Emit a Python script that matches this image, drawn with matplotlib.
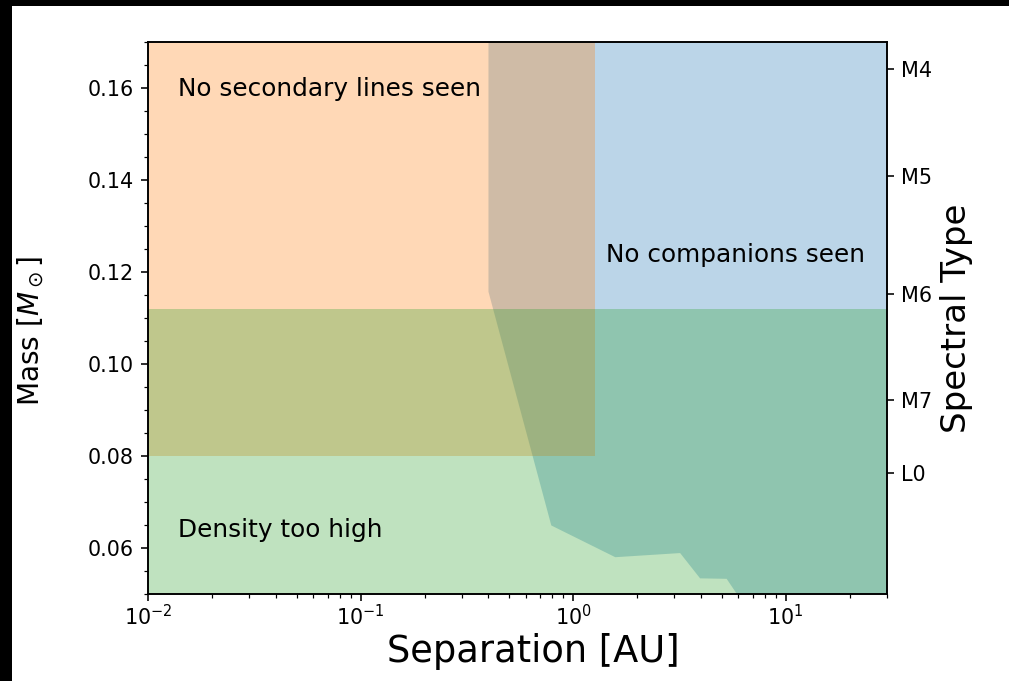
import matplotlib
matplotlib.use("Agg")
import matplotlib.pyplot as plt
from matplotlib.patches import Rectangle
from matplotlib.ticker import MultipleLocator

# Data
x_range = [0.01, 30]
y_range = [0.05, 0.17]
# "No secondary lines seen" region (orange)
sb2_sep = [0.01, 1.27]
sb2_mass = [0.08, 0.17]
# "Density too high" region (green)
dens_sep = [0.01, 30]
dens_mass = [0.05, 0.112]
# "No companions seen" region boundary (blue)
comp_sep = [0.4, 0.4, 0.79, 1.58, 3.19, 3.96, 5.28, 5.9, 30, 30]
comp_mass = [0.17, 0.1157, 0.0649, 0.058, 0.0589, 0.0534, 0.0533, 0.05, 0.05, 0.17]
# Spectral type axis
spt_mass = [0.1641, 0.1409, 0.1152, 0.0922, 0.0762]
spt_labels = ["M4", "M5", "M6", "M7", "L0"]

DPI = 144
fig = plt.figure(figsize=(1009 / DPI, 681 / DPI), dpi=DPI)
fig.patch.set_facecolor("black")
fig.patches.append(Rectangle((12 / 1009, 0), 1 - 12 / 1009, 1 - 6 / 681,
                             transform=fig.transFigure, facecolor="white",
                             edgecolor="none", zorder=-10))

ax = fig.add_axes([148 / 1009, 1 - 594 / 681, (887 - 148) / 1009, (594 - 42) / 681])
ax.set_xscale("log")
ax.set_xlim(*x_range)
ax.set_ylim(*y_range)

ax.fill(comp_sep, comp_mass, color="C0", alpha=0.3, lw=0)
ax.fill_between(sb2_sep, sb2_mass[0], sb2_mass[1], color="C1", alpha=0.3, lw=0)
ax.fill_between(dens_sep, dens_mass[0], dens_mass[1], color="C2", alpha=0.3, lw=0)

ax.text(0.0138, 0.1598, "No secondary lines seen", fontsize=12.4, va="center", ha="left")
ax.text(1.43, 0.1237, "No companions seen", fontsize=12.4, va="center", ha="left")
ax.text(0.0138, 0.0639, "Density too high", fontsize=12.4, va="center", ha="left")

ax.yaxis.set_major_locator(MultipleLocator(0.02))
ax.yaxis.set_minor_locator(MultipleLocator(0.005))
ax.tick_params(labelsize=10.4)
ax.tick_params(axis="x", which="major", pad=1.5)
ax.set_xlabel("Separation [AU]", fontsize=18.4)
ax.xaxis.set_label_coords(0.521, -0.071)
ax.set_ylabel(r"Mass [$M_\odot$]", fontsize=14)
ax.yaxis.set_label_coords(-0.138, 0.476)

ax2 = ax.twinx()
ax2.set_ylim(*y_range)
ax2.set_yticks(spt_mass)
ax2.set_yticklabels(spt_labels)
ax2.tick_params(labelsize=10.4)
ax2.set_ylabel("Spectral Type", fontsize=17, labelpad=4)

fig.savefig("out.png", dpi=DPI, facecolor=fig.get_facecolor())
